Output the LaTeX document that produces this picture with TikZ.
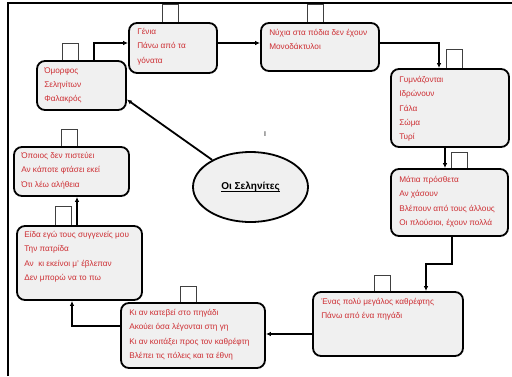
\documentclass[tikz,border=0pt]{standalone}
\usepackage{fontspec}
\setmainfont{Liberation Sans}
\usetikzlibrary{positioning}
\usetikzlibrary{shapes.geometric}
\usetikzlibrary{arrows.meta}
\definecolor{verseRed}{RGB}{205,45,50}
\definecolor{boxGray}{RGB}{240,240,240}
\newcommand{\titleline}[1]{\setbox0\hbox{#1}\rlap{\vrule height -1.3pt depth 2.1pt width \wd0}\box0}
\tikzset{
    stage/.style={draw=black, line width=1.8pt, rounded corners=8pt, fill=boxGray, inner sep=0pt},
    verse/.style={text=verseRed, font=\fontsize{8.2}{14.3}\selectfont, align=left, inner sep=0pt},
    tab/.style={draw=black!75, line width=0.6pt, fill=white, minimum width=16pt, minimum height=17pt, inner sep=0pt, anchor=south},
    flow/.style={line width=1.8pt, -{Latex[length=5pt,width=4.5pt]}}
}

\begin{document}
\begin{tikzpicture}[x=1pt,y=-1pt]
        \useasboundingbox (0,0) rectangle (512,376);
        %\node[font=\large\bfseries] at (256,0) {Οι Σεληνίτες};
        \draw[line width=2.6pt] (8,376) -- (8,3) -- (512,3);

        % tabs first, boxes over them
        \node[tab] (omorfostab) at (70,61) {};
        \node[tab, minimum height=18pt] (geniatab) at (170.5,23) {};
        \node[tab, minimum height=18pt] (nyxiatab) at (315,23) {};
        \node[tab, minimum height=19pt] (gymnazontaitab) at (454.5,69) {};
        \node[tab, minimum height=16pt] (matiatab) at (459.5,169) {};
        \node[tab, minimum height=16pt] (kathreftistab) at (382,292) {};
        \node[tab, minimum height=16pt] (pigaditab) at (188.5,303) {};
        \node[tab, minimum height=19pt] (synggeneistab) at (63.5,226) {};
        \node[tab] (opoiostab) at (69.5,147) {};

        \node[stage, minimum width=89pt, minimum height=49pt] (omorfos) at (81.5,85.5) {};
        \node[stage, minimum width=88pt, minimum height=50pt] (genia) at (173,48) {};
        \node[stage, minimum width=118pt, minimum height=48pt] (nyxia) at (320,47) {};
        \node[stage, minimum width=118pt, minimum height=78pt] (gymnazontai) at (450,108) {};
        \node[stage, minimum width=117pt, minimum height=67pt] (matia) at (449.5,202.5) {};
        \node[stage, minimum width=150pt, minimum height=64pt] (kathreftis) at (388,324) {};
        \node[stage, minimum width=144pt, minimum height=65pt] (pigadi) at (193,335.5) {};
        \node[stage, minimum width=125pt, minimum height=74pt] (synggeneis) at (79.5,263) {};
        \node[stage, minimum width=115pt, minimum height=49pt] (opoios) at (71.5,171.5) {};

        \node[verse, below right=7pt and 8pt of omorfos.north west] (omorfostext) {Όμορφος\\Σεληνίτων\\Φαλακρός};
        \node[verse, below right=6pt and 9pt of genia.north west] (geniatext) {Γένια\\Πάνω από τα\\γόνατα};
        \node[verse, below right=7pt and 9pt of nyxia.north west] (nyxiatext) {Νύχια στα πόδια δεν έχουν\\Μονοδάκτυλοι};
        \node[verse, below right=8pt and 9pt of gymnazontai.north west] (gymnazontaitext) {Γυμνάζονται\\Ιδρώνουν\\Γάλα\\Σώμα\\Τυρί};
        \node[verse, below right=8pt and 9pt of matia.north west] (matiatext) {Μάτια πρόσθετα\\Αν χάσουν\\Βλέπουν από τους άλλους\\Οι πλούσιοι, έχουν πολλά};
        \node[verse, below right=7pt and 9pt of kathreftis.north west] (kathreftistext) {Ένας πολύ μεγάλος καθρέφτης\\Πάνω από ένα πηγάδι};
        \node[verse, below right=7pt and 9pt of pigadi.north west] (pigaditext) {Κι αν κατεβεί στο πηγάδι\\Ακούει όσα λέγονται στη γη\\Κι αν κοιτάξει προς τον καθρέφτη\\Βλέπει τις πόλεις και τα έθνη};
        \node[verse, below right=6pt and 8pt of synggeneis.north west] (synggeneistext) {Είδα εγώ τους συγγενείς μου\\Την πατρίδα\\Αν\ \ κι εκείνοι μ' έβλεπαν\\Δεν μπορώ να το πω};
        \node[verse, below right=6pt and 8pt of opoios.north west] (opoiostext) {Όποιος δεν πιστεύει\\Αν κάποτε φτάσει εκεί\\Ότι λέω αλήθεια};

        \node[ellipse, draw=black, line width=1.8pt, fill=boxGray, minimum width=115pt, minimum height=70pt, font=\bfseries\fontsize{10}{12}\selectfont] (selinites) at (250.5,187) {\titleline{Οι Σεληνίτες}};
        \node[font=\fontsize{7}{8}\selectfont] (cursor) at (265,134) {I};

        \draw[flow] ([xshift=12.5pt]omorfos.north) |- ([yshift=5pt]genia.west);
        \draw[flow] ([yshift=5pt]genia.east) -- ([yshift=5pt]genia.east -| nyxia.west);
        \draw[flow] ([yshift=4pt]nyxia.east) -| ([xshift=-11pt]gymnazontai.north);
        \draw[flow] ([xshift=-5pt]gymnazontai.south) -- ([xshift=-5pt]gymnazontai.south |- matia.north);
        \draw[flow] ([xshift=2.5pt]matia.south) -- ++(0,27) -| ([xshift=38pt]kathreftis.north);
        \draw[flow] ([yshift=-10pt]kathreftis.west) -- ([yshift=-10pt]kathreftis.west -| pigadi.east);
        \draw[flow] ([yshift=9.5pt]pigadi.west) -| ([xshift=-7.5pt]synggeneis.south);
        \draw[flow] ([xshift=-2.5pt]synggeneis.north) -- ([xshift=-2.5pt]synggeneis.north |- opoios.south);
        \draw[flow] (selinites) -- ([yshift=-14pt]omorfos.east);
    \end{tikzpicture}
\end{document}
